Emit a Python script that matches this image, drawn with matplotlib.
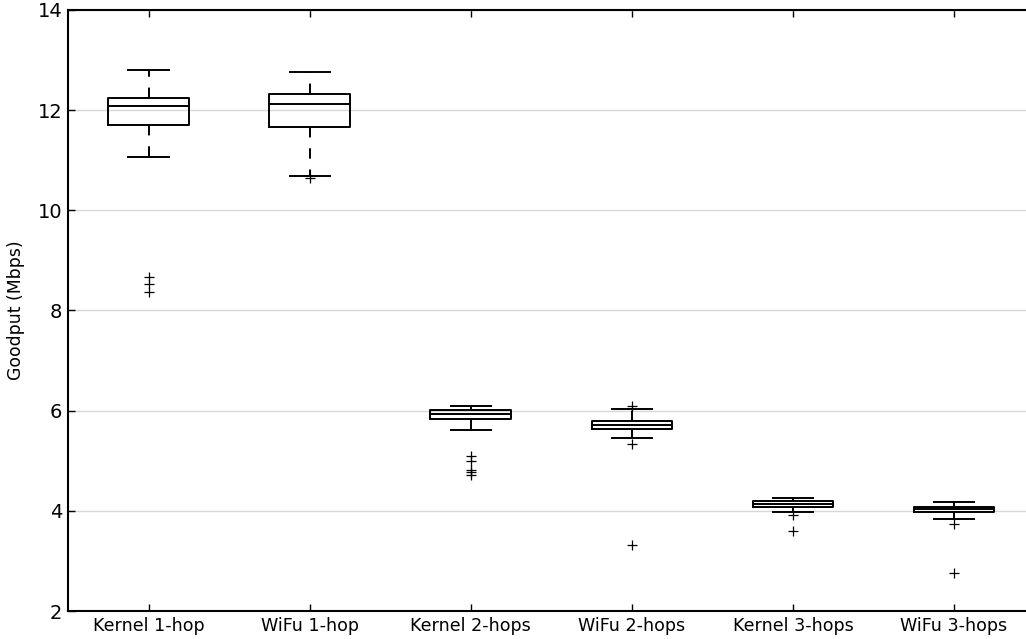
import matplotlib
matplotlib.use('Agg')
from matplotlib import pyplot as plt

labels = ['Kernel 1-hop', 'WiFu 1-hop', 'Kernel 2-hops',
          'WiFu 2-hops', 'Kernel 3-hops', 'WiFu 3-hops']

# five-number summaries per scenario (Mbps)
whislo = [11.07, 10.69, 5.61, 5.45, 3.98, 3.83]
q1 = [11.70, 11.66, 5.83, 5.63, 4.08, 3.97]
med = [12.09, 12.13, 5.93, 5.71, 4.14, 4.03]
q3 = [12.25, 12.32, 6.01, 5.79, 4.19, 4.08]
whishi = [12.81, 12.77, 6.09, 6.03, 4.26, 4.18]
fliers = [
    [8.66, 8.52, 8.37],
    [10.64],
    [5.10, 5.00, 4.81, 4.77, 4.71],
    [6.10, 5.33, 3.31],
    [3.92, 3.60],
    [3.74, 2.76],
]

stats = []
for i in range(len(labels)):
    stats.append({'label': labels[i], 'whislo': whislo[i], 'q1': q1[i],
                  'med': med[i], 'q3': q3[i], 'whishi': whishi[i],
                  'fliers': fliers[i]})

plt.rcParams['lines.scale_dashes'] = False

fig = plt.figure(figsize=(10.26, 6.39), dpi=100)
ax = fig.add_axes([0.0663, 0.0438, 0.942, 0.9406])

lw = 1.4
ax.bxp(stats, widths=0.5,
       boxprops=dict(color='black', linewidth=lw),
       medianprops=dict(color='black', linewidth=lw),
       whiskerprops=dict(color='black', linewidth=lw,
                         linestyle=(0, (7.5, 7.8))),
       capprops=dict(color='black', linewidth=lw),
       flierprops=dict(marker='+', markersize=7.5, markeredgewidth=0.9,
                       markeredgecolor='black', linestyle='none'))

ax.set_xlim(0.5, 6.5)
ax.set_ylim(2, 14)
ax.set_yticks(range(2, 15, 2))
ax.yaxis.grid(True, color='#d8d8d8', linewidth=1.0)
ax.set_axisbelow(True)

for s in ax.spines.values():
    s.set_linewidth(1.5)

ax.tick_params(direction='in', top=True, right=True, length=5, width=1)
ax.tick_params(axis='x', labelsize=12.6, pad=4)
ax.tick_params(axis='y', labelsize=14, pad=4)
ax.set_ylabel('Goodput (Mbps)', fontsize=12.4, labelpad=9)

fig.savefig('out.png', dpi=100)
